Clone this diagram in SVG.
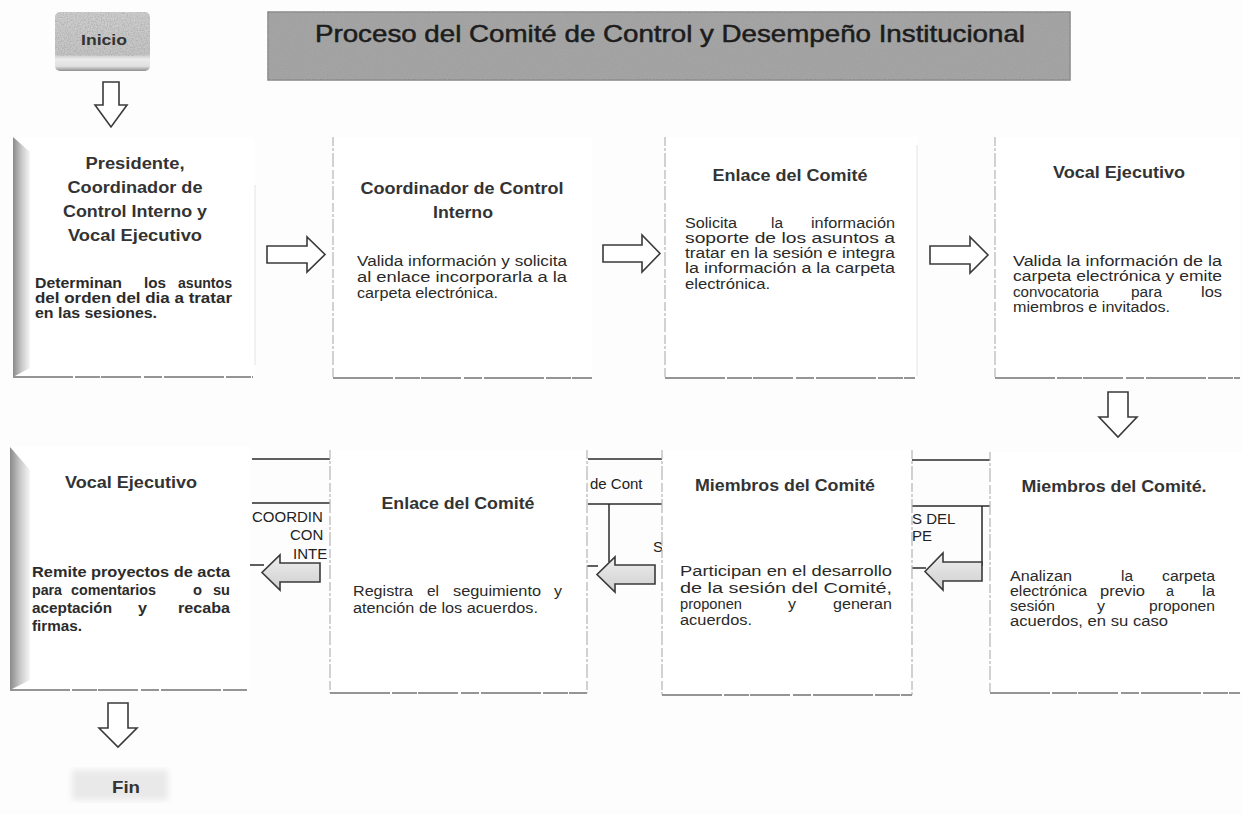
<svg xmlns="http://www.w3.org/2000/svg" width="1242" height="815" viewBox="0 0 1242 815">
<defs>
<style>
text{font-family:"Liberation Sans",Arial,sans-serif}
.h{font-size:16px;font-weight:bold;fill:#333;text-anchor:middle}
.b{font-size:14px;fill:#2a2a2a}
.bb{font-size:14px;font-weight:bold;fill:#2b2b2b}
.e{text-anchor:end}
.f{font-size:15px;fill:#222}
.box{fill:#fff}
.lft{stroke:#b5b5b5;stroke-width:1.2;stroke-dasharray:9 2 3 2 14 3;fill:none}
.bot{stroke:#959595;stroke-width:2;stroke-dasharray:60 2 25 1 40 3 18 2;fill:none}
.rgt{stroke:#e4e4e4;stroke-width:1;fill:none}
.ln{stroke:#2a2a2a;stroke-width:1.5;fill:none}
.arr{fill:#fff;stroke:#3a3a3a;stroke-width:1.6;stroke-linejoin:miter}
.arrg{fill:url(#ga);stroke:#3a3a3a;stroke-width:1.6;stroke-linejoin:miter}
</style>
<linearGradient id="ga" x1="0" y1="0" x2="0" y2="1"><stop offset="0" stop-color="#eeeeee"/><stop offset="1" stop-color="#cfcfcf"/></linearGradient>
<linearGradient id="bev" x1="0" y1="0" x2="1" y2="0"><stop offset="0" stop-color="#8a8a8a"/><stop offset="0.5" stop-color="#c8c8c8"/><stop offset="1" stop-color="#f6f6f6"/></linearGradient>
<linearGradient id="ini" x1="0" y1="0" x2="0" y2="1"><stop offset="0" stop-color="#cfcfcf"/><stop offset="0.72" stop-color="#c4c4c4"/><stop offset="0.8" stop-color="#ececec"/><stop offset="0.92" stop-color="#e0e0e0"/><stop offset="1" stop-color="#8f8f8f"/></linearGradient>
<filter id="noise" x="0" y="0" width="100%" height="100%">
<feTurbulence type="fractalNoise" baseFrequency="0.7" numOctaves="2" seed="3" result="n"/>
<feColorMatrix in="n" type="matrix" values="0 0 0 0 0.35  0 0 0 0 0.35  0 0 0 0 0.35  0 0 0 2.2 -0.8" result="m"/>
<feComposite in="m" in2="SourceGraphic" operator="in"/>
</filter>
<filter id="blur"><feGaussianBlur stdDeviation="3"/></filter>
</defs>

<rect width="1242" height="815" fill="#fdfdfd"/>

<g id="residue">
<line class="ln" x1="252" y1="459" x2="330" y2="459"/>
<line class="ln" x1="252" y1="503" x2="330" y2="503"/>
<text class="f" x="252" y="522">COORDIN</text>
<text class="f" x="290" y="540">CON</text>
<text class="f" x="293" y="559">INTE</text>
<line class="ln" x1="250" y1="565" x2="264" y2="565"/>
<line class="ln" x1="588" y1="459" x2="662" y2="459"/>
<line class="ln" x1="588" y1="504" x2="662" y2="504"/>
<text class="f" x="590" y="489">de Cont</text>
<line class="ln" x1="609" y1="504" x2="609" y2="562"/>
<text class="f" x="653" y="552">S</text>
<line class="ln" x1="586" y1="566" x2="598" y2="566"/>
<line class="ln" x1="912" y1="460" x2="990" y2="460"/>
<line class="ln" x1="912" y1="506" x2="990" y2="506"/>
<text class="f" x="912" y="524">S DEL</text>
<text class="f" x="912" y="541">PE</text>
<line class="ln" x1="982" y1="506" x2="982" y2="566"/>
<line class="ln" x1="912" y1="568" x2="926" y2="568"/>
</g>

<g id="inicio">
<rect x="55" y="12" width="95" height="59" rx="5" fill="url(#ini)"/>
<rect x="55" y="12" width="95" height="44" rx="5" fill="#bbb" filter="url(#noise)" opacity="0.6"/>
<text x="104" y="45" font-size="15" font-weight="bold" fill="#333" text-anchor="middle" textLength="46" lengthAdjust="spacingAndGlyphs">Inicio</text>
</g>

<g id="titulo">
<rect x="268" y="12" width="802" height="68" fill="#a4a4a4" stroke="#868686" stroke-width="1.5"/>
<rect x="268" y="12" width="802" height="68" fill="#aaa" filter="url(#noise)"/>
<text x="315" y="42" font-size="24" fill="#1c1c1c" stroke="#1c1c1c" stroke-width="0.5" textLength="710" lengthAdjust="spacingAndGlyphs">Proceso del Comité de Control y Desempeño Institucional</text>
</g>

<g id="n1">
<rect class="box" x="13" y="137" width="242" height="240"/>
<polygon points="13,137 30,152 30,368 13,377" fill="url(#bev)"/>
<line class="rgt" x1="255" y1="185" x2="255" y2="365"/>
<line class="bot" x1="13" y1="377" x2="253" y2="377"/>
<text class="h" x="135" y="169" textLength="99" lengthAdjust="spacingAndGlyphs">Presidente,</text>
<text class="h" x="135" y="193" textLength="135" lengthAdjust="spacingAndGlyphs">Coordinador de</text>
<text class="h" x="135" y="217" textLength="144" lengthAdjust="spacingAndGlyphs">Control Interno y</text>
<text class="h" x="135" y="241" textLength="134" lengthAdjust="spacingAndGlyphs">Vocal Ejecutivo</text>
<text class="bb" x="35" y="288" textLength="87" lengthAdjust="spacingAndGlyphs">Determinan</text>
<text class="bb" x="144" y="288" textLength="22" lengthAdjust="spacingAndGlyphs">los</text>
<text class="bb e" x="232" y="288" textLength="54" lengthAdjust="spacingAndGlyphs">asuntos</text>
<text class="bb" x="35" y="303" textLength="197" lengthAdjust="spacingAndGlyphs">del orden del dia a tratar</text>
<text class="bb" x="35" y="318" textLength="122" lengthAdjust="spacingAndGlyphs">en las sesiones.</text>
</g>

<g id="n2">
<rect class="box" x="333" y="137" width="259" height="241"/>
<line class="lft" x1="333" y1="137" x2="333" y2="378"/>
<line class="bot" x1="333" y1="378" x2="592" y2="378"/>
<text class="h" x="462" y="194" textLength="203" lengthAdjust="spacingAndGlyphs">Coordinador de Control</text>
<text class="h" x="463" y="218" textLength="60" lengthAdjust="spacingAndGlyphs">Interno</text>
<text class="b" x="357" y="266" textLength="210" lengthAdjust="spacingAndGlyphs">Valida información y solicita</text>
<text class="b" x="357" y="282" textLength="210" lengthAdjust="spacingAndGlyphs">al enlace incorporarla a la</text>
<text class="b" x="357" y="298" textLength="141" lengthAdjust="spacingAndGlyphs">carpeta electrónica.</text>
</g>

<g id="n3">
<rect class="box" x="665" y="137" width="252" height="241"/>
<line class="lft" x1="665" y1="137" x2="665" y2="378"/>
<line class="rgt" x1="917" y1="145" x2="917" y2="376"/>
<line class="bot" x1="665" y1="378" x2="915" y2="378"/>
<text class="h" x="790" y="181" textLength="155" lengthAdjust="spacingAndGlyphs">Enlace del Comité</text>
<text class="b" x="685" y="228" textLength="52" lengthAdjust="spacingAndGlyphs">Solicita</text>
<text class="b" x="771" y="228" textLength="12" lengthAdjust="spacingAndGlyphs">la</text>
<text class="b e" x="895" y="228" textLength="84" lengthAdjust="spacingAndGlyphs">información</text>
<text class="b" x="685" y="243" textLength="210" lengthAdjust="spacingAndGlyphs">soporte de los asuntos a</text>
<text class="b" x="685" y="258" textLength="210" lengthAdjust="spacingAndGlyphs">tratar en la sesión e integra</text>
<text class="b" x="685" y="273" textLength="210" lengthAdjust="spacingAndGlyphs">la información a la carpeta</text>
<text class="b" x="685" y="289" textLength="85" lengthAdjust="spacingAndGlyphs">electrónica.</text>
</g>

<g id="n4">
<rect class="box" x="995" y="137" width="245" height="241"/>
<line class="lft" x1="995" y1="137" x2="995" y2="378"/>
<line class="bot" x1="995" y1="378" x2="1240" y2="378"/>
<text class="h" x="1119" y="178" textLength="132" lengthAdjust="spacingAndGlyphs">Vocal Ejecutivo</text>
<text class="b" x="1013" y="266" textLength="209" lengthAdjust="spacingAndGlyphs">Valida la información de la</text>
<text class="b" x="1013" y="281" textLength="209" lengthAdjust="spacingAndGlyphs">carpeta electrónica y emite</text>
<text class="b" x="1013" y="297" textLength="86" lengthAdjust="spacingAndGlyphs">convocatoria</text>
<text class="b" x="1131" y="297" textLength="31" lengthAdjust="spacingAndGlyphs">para</text>
<text class="b e" x="1222" y="297" textLength="21" lengthAdjust="spacingAndGlyphs">los</text>
<text class="b" x="1013" y="312" textLength="157" lengthAdjust="spacingAndGlyphs">miembros e invitados.</text>
</g>

<g id="n5">
<rect class="box" x="10" y="447" width="240" height="243"/>
<polygon points="10,447 30,470 30,680 10,690" fill="url(#bev)"/>
<line class="bot" x1="10" y1="690" x2="247" y2="690"/>
<text class="h" x="131" y="488" textLength="132" lengthAdjust="spacingAndGlyphs">Vocal Ejecutivo</text>
<text class="bb" x="32" y="577" textLength="198" lengthAdjust="spacingAndGlyphs">Remite proyectos de acta</text>
<text class="bb" x="32" y="595" textLength="30" lengthAdjust="spacingAndGlyphs">para</text>
<text class="bb" x="71" y="595" textLength="85" lengthAdjust="spacingAndGlyphs">comentarios</text>
<text class="bb" x="193" y="595" textLength="9" lengthAdjust="spacingAndGlyphs">o</text>
<text class="bb e" x="230" y="595" textLength="17" lengthAdjust="spacingAndGlyphs">su</text>
<text class="bb" x="32" y="613" textLength="80" lengthAdjust="spacingAndGlyphs">aceptación</text>
<text class="bb" x="138" y="613" textLength="9" lengthAdjust="spacingAndGlyphs">y</text>
<text class="bb e" x="230" y="613" textLength="52" lengthAdjust="spacingAndGlyphs">recaba</text>
<text class="bb" x="32" y="631" textLength="50" lengthAdjust="spacingAndGlyphs">firmas.</text>
</g>

<g id="n6">
<rect class="box" x="330" y="450" width="257" height="243"/>
<line class="lft" x1="330" y1="450" x2="330" y2="693"/>
<line class="lft" x1="587" y1="450" x2="587" y2="693"/>
<line class="bot" x1="330" y1="693" x2="587" y2="693"/>
<text class="h" x="458" y="509" textLength="153" lengthAdjust="spacingAndGlyphs">Enlace del Comité</text>
<text class="b" x="353" y="596" textLength="60" lengthAdjust="spacingAndGlyphs">Registra</text>
<text class="b" x="427" y="596" textLength="12" lengthAdjust="spacingAndGlyphs">el</text>
<text class="b" x="453" y="596" textLength="88" lengthAdjust="spacingAndGlyphs">seguimiento</text>
<text class="b e" x="562" y="596" textLength="8" lengthAdjust="spacingAndGlyphs">y</text>
<text class="b" x="353" y="613" textLength="185" lengthAdjust="spacingAndGlyphs">atención de los acuerdos.</text>
</g>

<g id="n7">
<rect class="box" x="662" y="450" width="250" height="245"/>
<line class="lft" x1="662" y1="450" x2="662" y2="695"/>
<line class="lft" x1="912" y1="450" x2="912" y2="695"/>
<line class="bot" x1="662" y1="695" x2="912" y2="695"/>
<text class="h" x="785" y="491" textLength="180" lengthAdjust="spacingAndGlyphs">Miembros del Comité</text>
<text class="b" x="680" y="576" textLength="212" lengthAdjust="spacingAndGlyphs">Participan en el desarrollo</text>
<text class="b" x="680" y="593" textLength="212" lengthAdjust="spacingAndGlyphs">de la sesión del Comité,</text>
<text class="b" x="680" y="609" textLength="62" lengthAdjust="spacingAndGlyphs">proponen</text>
<text class="b" x="788" y="609" textLength="8" lengthAdjust="spacingAndGlyphs">y</text>
<text class="b e" x="892" y="609" textLength="59" lengthAdjust="spacingAndGlyphs">generan</text>
<text class="b" x="680" y="625" textLength="72" lengthAdjust="spacingAndGlyphs">acuerdos.</text>
</g>

<g id="n8">
<rect class="box" x="990" y="452" width="252" height="241"/>
<line class="lft" x1="990" y1="452" x2="990" y2="693"/>
<line class="bot" x1="990" y1="693" x2="1240" y2="693"/>
<text class="h" x="1114" y="492" textLength="185" lengthAdjust="spacingAndGlyphs">Miembros del Comité.</text>
<text class="b" x="1010" y="581" textLength="62" lengthAdjust="spacingAndGlyphs">Analizan</text>
<text class="b" x="1121" y="581" textLength="12" lengthAdjust="spacingAndGlyphs">la</text>
<text class="b e" x="1215" y="581" textLength="53" lengthAdjust="spacingAndGlyphs">carpeta</text>
<text class="b" x="1010" y="596" textLength="77" lengthAdjust="spacingAndGlyphs">electrónica</text>
<text class="b" x="1100" y="596" textLength="45" lengthAdjust="spacingAndGlyphs">previo</text>
<text class="b" x="1166" y="596" textLength="8" lengthAdjust="spacingAndGlyphs">a</text>
<text class="b e" x="1215" y="596" textLength="13" lengthAdjust="spacingAndGlyphs">la</text>
<text class="b" x="1010" y="611" textLength="45" lengthAdjust="spacingAndGlyphs">sesión</text>
<text class="b" x="1097" y="611" textLength="8" lengthAdjust="spacingAndGlyphs">y</text>
<text class="b e" x="1215" y="611" textLength="66" lengthAdjust="spacingAndGlyphs">proponen</text>
<text class="b" x="1010" y="626" textLength="158" lengthAdjust="spacingAndGlyphs">acuerdos, en su caso</text>
</g>

<g id="fin">
<rect x="72" y="770" width="96" height="30" fill="#dcdcdc" filter="url(#blur)" opacity="0.6"/>
<text x="126" y="793" font-size="17" font-weight="bold" fill="#333" text-anchor="middle" textLength="28" lengthAdjust="spacingAndGlyphs">Fin</text>
</g>

<g id="connectors">
<path class="arr" d="M103,82 H119 V105 H127 L111,127 L95,105 H103 Z"/>
<path class="arr" d="M267,246 H307 V237 L325,254.5 L307,272 V263 H267 Z"/>
<path class="arr" d="M603,245 H642 V235 L660,253.5 L642,272 V262 H603 Z"/>
<path class="arr" d="M930,246 H970 V237 L988,255 L970,273 V264 H930 Z"/>
<path class="arr" d="M1108,392 H1128 V417 H1137 L1118,437 L1099,417 H1108 Z"/>
<path class="arrg" d="M982,562 H943 V553 L925,571.5 L943,590 V581 H982 Z"/>
<path class="arrg" d="M655,565 H615 V557 L597,574.5 L615,592 V584 H655 Z"/>
<path class="arrg" d="M320,563 H280 V555 L262,572.5 L280,590 V582 H320 Z"/>
<path class="arr" d="M108,703 H128 V728 H137 L118,747 L99,728 H108 Z"/>
</g>
</svg>
